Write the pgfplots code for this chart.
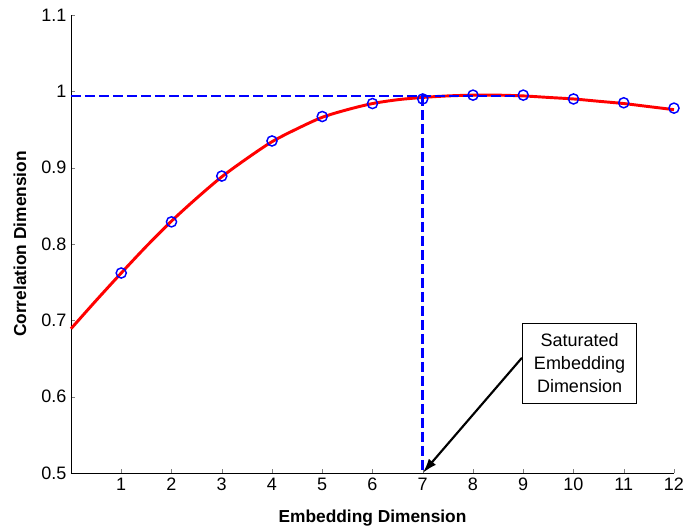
\documentclass[border=0pt]{standalone}
\usepackage{fontspec}
\setmainfont{Liberation Sans}
\usepackage{pgfplots}
\pgfplotsset{compat=1.18}
\usetikzlibrary{arrows.meta}
\begin{document}
\begin{tikzpicture}[x=1pt,y=1pt]
\useasboundingbox (-53.25pt,-42pt) rectangle (459pt,354.75pt);
\begin{axis}[
  scale only axis,
  width=452.25pt, height=343.5pt,
  xmin=0, xmax=12, ymin=0.5, ymax=1.1,
  axis lines*=left,
  tick align=inside,
  major tick length=3pt,
  xtick={1,2,3,4,5,6,7,8,9,10,11,12},
  xticklabels={1,2,3,4,5,6,7,8,9,10,11,12},
  ytick={0.5,0.6,0.7,0.8,0.9,1,1.1},
  yticklabels={0.5,0.6,0.7,0.8,0.9,1,1.1},
  tick label style={font=\fontsize{13.5}{16}\selectfont},
  /pgf/number format/assume math mode=true,
  xlabel={Embedding Dimension},
  ylabel={Correlation Dimension},
  every axis x label/.style={at={(axis description cs:0.5,0)},anchor=north,yshift=-24pt,font=\fontsize{13}{15}\selectfont\bfseries},
  every axis y label/.style={at={(axis description cs:0,0.5)},anchor=south,rotate=90,yshift=30pt,font=\fontsize{13}{15}\selectfont\bfseries},
  clip=false,
]
\addplot[red, line width=2.2pt, smooth, tension=0.5] coordinates {
 (0,0.689) (0.5,0.726) (1,0.762) (1.5,0.797) (2,0.830) (2.5,0.860) (3,0.888) (3.5,0.912) (4,0.934) (4.5,0.951) (5,0.966) (5.5,0.976) (6,0.984) (6.5,0.989) (7,0.992) (7.5,0.994) (8,0.995) (8.5,0.995) (9,0.994) (9.5,0.992) (10,0.990) (10.5,0.987) (11,0.984) (11.5,0.980) (12,0.976)
};
\addplot[blue, only marks, mark=o, mark size=3.8pt, mark options={line width=1.1pt}] coordinates {
 (1,0.762) (2,0.829) (3,0.889) (4,0.935) (5,0.967) (6,0.984) (7,0.990) (8,0.995) (9,0.995) (10,0.990) (11,0.985) (12,0.978)
};
\addplot[blue, line width=2pt, dash pattern=on 7.5pt off 3pt] coordinates {(0,0.994) (8.9,0.994)};
\addplot[blue, line width=2pt, dash pattern=on 7.5pt off 3pt] coordinates {(7,0.994) (7,0.5)};
\draw[-{Latex[length=11pt,width=7pt]}, line width=1.6pt] (axis cs:8.975,0.651) -- (axis cs:7,0.5);
\node[draw=black, line width=0.6pt, fill=white, minimum width=86pt, minimum height=60pt, align=center, font=\fontsize{13.5}{17}\selectfont, inner sep=2pt] at (axis cs:10.12,0.644) {Saturated\\Embedding\\Dimension};
\end{axis}
\end{tikzpicture}
\end{document}
